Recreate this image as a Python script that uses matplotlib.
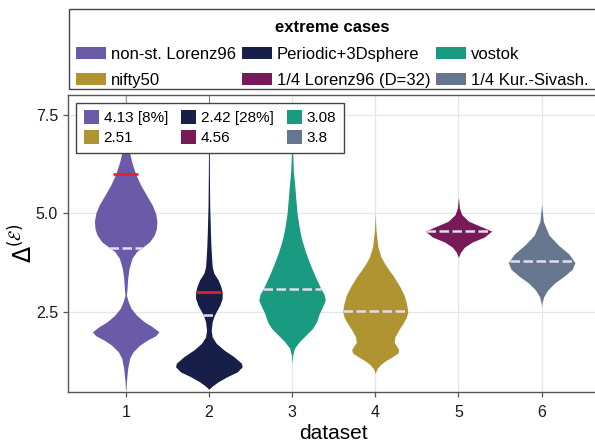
import numpy as np
import matplotlib
matplotlib.use("Agg")
import matplotlib.pyplot as plt
from matplotlib.patches import Patch, Rectangle

plt.rcParams["font.family"] = ["Liberation Sans", "DejaVu Sans"]
plt.rcParams["mathtext.fontset"] = "dejavusans"

# dataset names, colours and median labels
names = ["non-st. Lorenz96", "Periodic+3Dsphere", "vostok",
         "nifty50", "1/4 Lorenz96 (D=32)", "1/4 Kur.-Sivash."]
colors = ["#6A5AA8", "#171E47", "#1B9A82", "#B09432", "#781A58", "#67768F"]
medians = [4.13, 2.42, 3.08, 2.51, 4.56, 3.8]
median_labels = ["4.13 [8%]", "2.42 [28%]", "3.08", "2.51", "4.56", "3.8"]

# extra marks (red bars)
red_pos = [1, 2]
red_val = [6.0, 3.0]

# density profiles (value, relative density)
lorenz_y = [8.01, 7.5, 7.0, 6.53, 6.31, 6.0, 5.72, 5.47, 5.21, 5.0, 4.79, 4.6, 4.45,
            4.28, 4.15, 4.03, 3.86, 3.6, 3.35, 3.09, 2.92, 2.75, 2.59, 2.42, 2.25,
            2.12, 1.99, 1.89, 1.78, 1.65, 1.48, 1.32, 1.06, 0.72, 0.51]
lorenz_d = [0.01, 0.015, 0.04, 0.12, 0.18, 0.30, 0.45, 0.62, 0.80, 0.90, 0.94, 0.92, 0.86,
            0.72, 0.52, 0.33, 0.19, 0.10, 0.06, 0.04, 0.02, 0.08, 0.16, 0.32, 0.55,
            0.80, 1.0, 0.90, 0.65, 0.42, 0.22, 0.12, 0.06, 0.02, 0.005]

sphere_y = [8.01, 7.0, 6.0, 5.2, 4.58, 4.2, 3.90, 3.64, 3.48, 3.31, 3.14, 3.0, 2.84,
            2.67, 2.5, 2.40, 2.25, 2.03, 1.86, 1.70, 1.53, 1.36, 1.19, 1.10, 0.97,
            0.85, 0.72, 0.61, 0.53]
sphere_d = [0.008, 0.01, 0.015, 0.025, 0.045, 0.06, 0.08, 0.10, 0.15, 0.28, 0.36, 0.40, 0.40,
            0.33, 0.22, 0.16, 0.10, 0.07, 0.10, 0.22, 0.45, 0.75, 0.98, 1.0, 0.85,
            0.55, 0.28, 0.10, 0.0]

vostok_y = [7.0, 6.8, 6.53, 6.06, 5.72, 5.4, 5.0, 4.62, 4.37, 4.03, 3.69, 3.39, 3.08,
            2.95, 2.80, 2.65, 2.46, 2.25, 2.08, 1.91, 1.74, 1.57, 1.40, 1.2]
vostok_d = [0.0, 0.01, 0.02, 0.04, 0.08, 0.11, 0.15, 0.22, 0.28, 0.40, 0.55, 0.70, 0.87,
            0.96, 1.0, 0.93, 0.82, 0.74, 0.62, 0.42, 0.22, 0.07, 0.02, 0.0]

nifty_y = [5.0, 4.6, 4.15, 3.9, 3.73, 3.55, 3.39, 3.14, 2.92, 2.71, 2.5, 2.35, 2.2,
           2.03, 1.86, 1.72, 1.62, 1.53, 1.45, 1.35, 1.25, 1.15, 1.05, 0.93]
nifty_d = [0.0, 0.02, 0.08, 0.17, 0.28, 0.42, 0.56, 0.74, 0.87, 0.94, 0.98, 0.93, 0.83,
           0.70, 0.59, 0.57, 0.65, 0.71, 0.68, 0.50, 0.30, 0.15, 0.05, 0.0]

lor32_y = [5.41, 5.14, 4.97, 4.80, 4.67, 4.55, 4.40, 4.27, 4.14, 4.01, 3.88]
lor32_d = [0.0, 0.03, 0.10, 0.31, 0.67, 1.0, 0.78, 0.41, 0.18, 0.06, 0.0]

ks_y = [5.23, 4.80, 4.45, 4.19, 3.97, 3.75, 3.58, 3.40, 3.23, 3.05, 2.88, 2.71, 2.62]
ks_d = [0.0, 0.05, 0.22, 0.51, 0.82, 1.0, 0.92, 0.67, 0.39, 0.18, 0.06, 0.01, 0.0]

profiles = [(lorenz_y, lorenz_d), (sphere_y, sphere_d), (vostok_y, vostok_d),
            (nifty_y, nifty_d), (lor32_y, lor32_d), (ks_y, ks_d)]

half_width = 0.4
W, H = 595, 444

fig = plt.figure(figsize=(W / 100, H / 100), dpi=100)
ax = fig.add_axes([68.3 / W, 1 - 392 / H, (599 - 68.3) / W, (392 - 95) / H])

for i, (py, pd) in enumerate(profiles):
    x0 = i + 1
    y = np.array(py)
    w = np.array(pd) * half_width
    ax.fill_betweenx(y, x0 - w, x0 + w, color=colors[i], lw=0, zorder=2)
    # median, spanning the violin width at that value
    order = np.argsort(y)
    wm = np.interp(medians[i], y[order], w[order])
    ax.plot([x0 - wm, x0 + wm], [medians[i]] * 2, color="#E3DDEB", lw=1.8,
            dashes=(3.8, 1.4), zorder=3, solid_capstyle="butt")

for xp, yv in zip(red_pos, red_val):
    ax.plot([xp - 0.15, xp + 0.15], [yv, yv], color="#E8202A", lw=1.9, zorder=4,
            solid_capstyle="butt")

ax.set_xlim(0.31, 6.69)
ax.set_ylim(0.46, 8.01)
ax.set_xticks(range(1, 7))
ax.set_yticks([2.5, 5.0, 7.5])
ax.set_yticklabels(["2.5", "5.0", "7.5"])
ax.grid(True, color="#E6E6E6", lw=0.9, zorder=0)
ax.set_axisbelow(True)
for s in ax.spines.values():
    s.set_color("#555555")
    s.set_linewidth(1.0)
ax.tick_params(length=3.5, width=0.9, color="#555555", labelsize=11.5, pad=4,
               labelcolor="#1a1a1a")
ax.tick_params(axis="x", pad=6)
ax.set_xlabel("dataset", fontsize=15, labelpad=3)
ax.set_ylabel(r"$\Delta^{(\mathcal{E})}$", fontsize=17)
ax.yaxis.set_label_coords(-0.058, 0.5)

# legend inside the axes: median values
inner = [Patch(facecolor=c, edgecolor="none") for c in colors]
order = [0, 3, 1, 4, 2, 5]
leg_in = ax.legend([inner[k] for k in order], [median_labels[k] for k in order],
                   ncol=3, loc="upper left", bbox_to_anchor=(76 / W, 1 - 102.7 / H),
                   bbox_transform=fig.transFigure, borderaxespad=0, fontsize=11,
                   handlelength=1.0, handleheight=1.0, handletextpad=0.3,
                   columnspacing=0.85, labelspacing=0.3, borderpad=0.5,
                   frameon=True, fancybox=False, framealpha=1)
leg_in.get_frame().set_edgecolor("#444444")
leg_in.get_frame().set_linewidth(1.0)
leg_in.set_zorder(5)

# legend above the axes: dataset names, boxed by a plain rectangle
fig.patches.append(Rectangle((68.6 / W, 1 - 89 / H), (606 - 68.6) / W, (89 - 8.6) / H,
                             transform=fig.transFigure, facecolor="white",
                             edgecolor="#444444", lw=1.0))
leg_top = fig.legend([inner[k] for k in order], [names[k] for k in order],
                     ncol=3, loc="upper left", bbox_to_anchor=(68.6 / W, 1 - 13.2 / H),
                     borderaxespad=0, fontsize=12, title="extreme cases",
                     title_fontproperties={"weight": "bold", "size": 12},
                     handlelength=1.8, handleheight=0.75, handletextpad=0.3,
                     columnspacing=0.36, labelspacing=0.68, borderpad=0.42,
                     frameon=False)

fig.savefig("out.png", dpi=100, facecolor="white")
